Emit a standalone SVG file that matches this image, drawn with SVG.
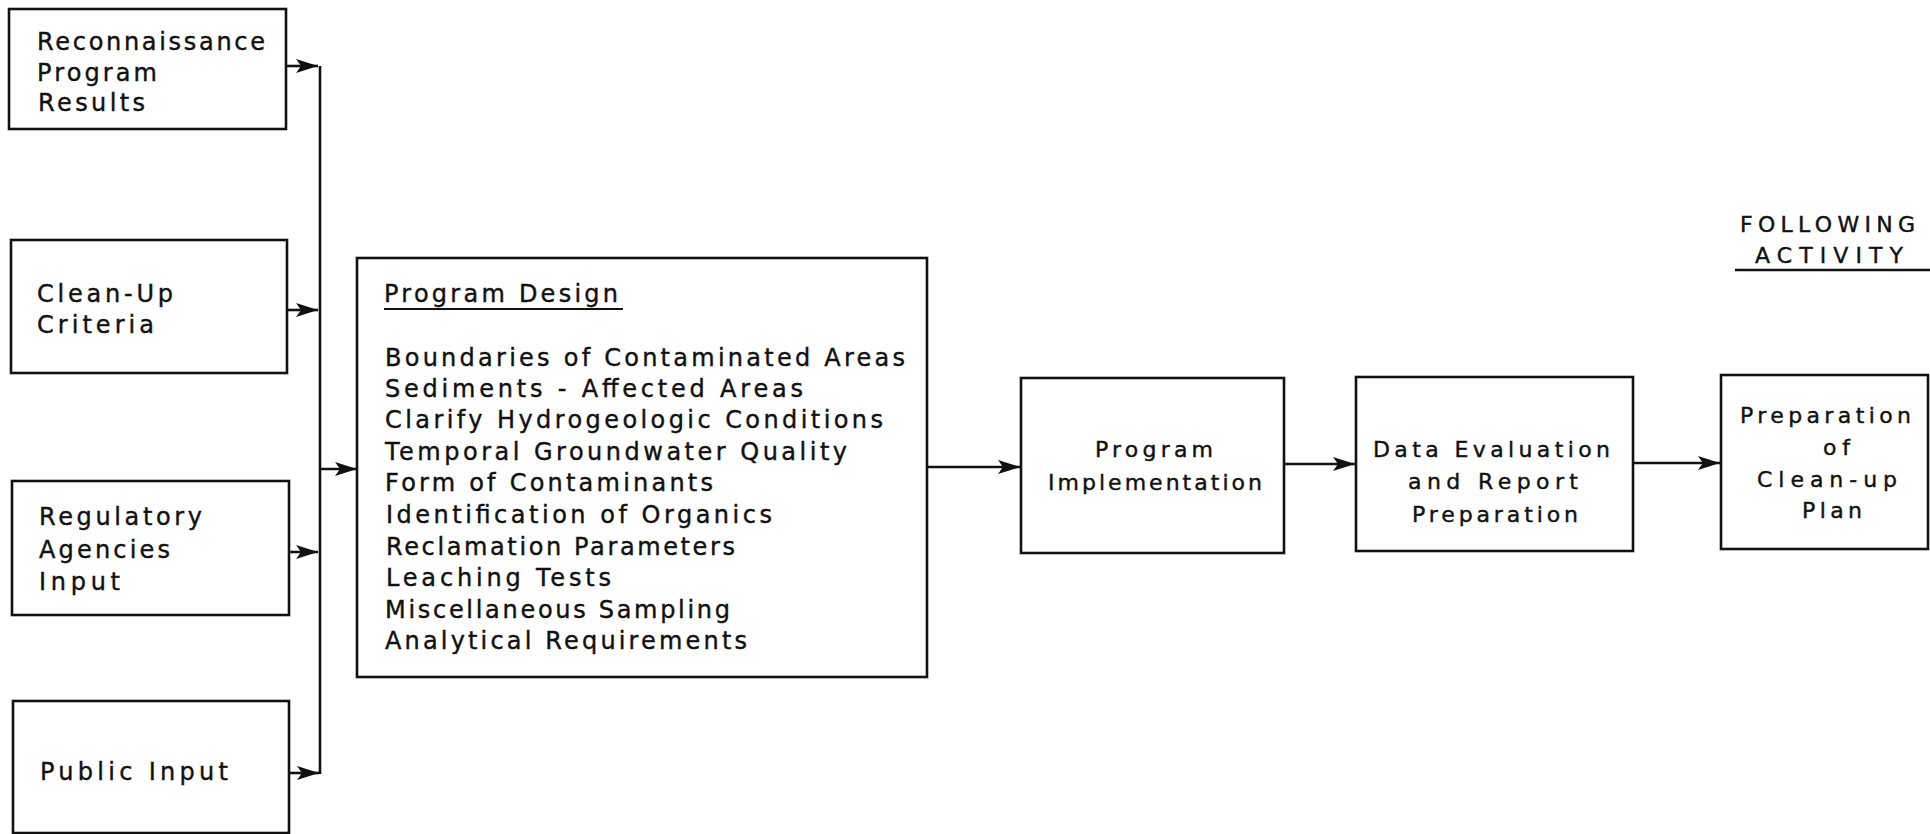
<svg xmlns="http://www.w3.org/2000/svg" width="1930" height="834" viewBox="0 0 1930 834">
<defs>
<style>
.box{fill:none;stroke:#111;stroke-width:2.6}
.ln{fill:none;stroke:#111;stroke-width:2.6}
.t{font-family:"DejaVu Sans","Open Sans",sans-serif;font-size:24px;fill:#111;stroke:#111;stroke-width:0.4}
.s{font-family:"DejaVu Sans","Open Sans",sans-serif;font-size:22px;fill:#111;stroke:#111;stroke-width:0.4}
</style>
<marker id="ah" viewBox="0 0 22 14" refX="22" refY="7" markerWidth="22" markerHeight="14" markerUnits="userSpaceOnUse" orient="auto">
<path d="M0,0 L22,7 L0,14 L5,7 Z" fill="#111"/>
</marker>
</defs>
<rect width="1930" height="834" fill="#fff"/>

<g id="connectors">
<line class="ln" x1="320" y1="66" x2="320" y2="774"/>
<line class="ln" x1="286" y1="66" x2="318" y2="66" marker-end="url(#ah)"/>
<line class="ln" x1="287" y1="310" x2="318" y2="310" marker-end="url(#ah)"/>
<line class="ln" x1="289" y1="552" x2="318" y2="552" marker-end="url(#ah)"/>
<line class="ln" x1="289" y1="773" x2="319" y2="773" marker-end="url(#ah)"/>
<line class="ln" x1="320" y1="469" x2="357" y2="469" marker-end="url(#ah)"/>
<line class="ln" x1="927" y1="467" x2="1020" y2="467" marker-end="url(#ah)"/>
<line class="ln" x1="1284" y1="464" x2="1355" y2="464" marker-end="url(#ah)"/>
<line class="ln" x1="1633" y1="463" x2="1720" y2="463" marker-end="url(#ah)"/>
</g>

<g id="reconnaissance">
<rect class="box" x="9" y="9" width="277" height="120"/>
<text class="t" x="37" y="50" textLength="228" lengthAdjust="spacing">Reconnaissance</text>
<text class="t" x="37" y="81" textLength="120" lengthAdjust="spacing">Program</text>
<text class="t" x="38" y="111" textLength="107" lengthAdjust="spacing">Results</text>
</g>

<g id="cleanup-criteria">
<rect class="box" x="11" y="240" width="276" height="133"/>
<text class="t" x="37" y="302" textLength="136" lengthAdjust="spacing">Clean-Up</text>
<text class="t" x="37" y="333" textLength="117" lengthAdjust="spacing">Criteria</text>
</g>

<g id="regulatory">
<rect class="box" x="12" y="481" width="277" height="134"/>
<text class="t" x="39" y="525" textLength="163" lengthAdjust="spacing">Regulatory</text>
<text class="t" x="39" y="558" textLength="131" lengthAdjust="spacing">Agencies</text>
<text class="t" x="39" y="590" textLength="81" lengthAdjust="spacing">Input</text>
</g>

<g id="public-input">
<rect class="box" x="13" y="701" width="276" height="132"/>
<text class="t" x="40" y="780" textLength="188" lengthAdjust="spacing">Public Input</text>
</g>

<g id="program-design">
<rect class="box" x="357" y="258" width="570" height="419"/>
<text class="t" x="384" y="302" textLength="234" lengthAdjust="spacing">Program Design</text>
<line x1="384" y1="309" x2="623" y2="309" stroke="#111" stroke-width="2.2"/>
<text class="t" x="385" y="366" textLength="520" lengthAdjust="spacing">Boundaries of Contaminated Areas</text>
<text class="t" x="385" y="397" textLength="418" lengthAdjust="spacing">Sediments - Affected Areas</text>
<text class="t" x="385" y="428" textLength="498" lengthAdjust="spacing">Clarify Hydrogeologic Conditions</text>
<text class="t" x="385" y="460" textLength="462" lengthAdjust="spacing">Temporal Groundwater Quality</text>
<text class="t" x="385" y="491" textLength="328" lengthAdjust="spacing">Form of Contaminants</text>
<text class="t" x="386" y="523" textLength="386" lengthAdjust="spacing">Identification of Organics</text>
<text class="t" x="386" y="555" textLength="349" lengthAdjust="spacing">Reclamation Parameters</text>
<text class="t" x="386" y="586" textLength="225" lengthAdjust="spacing">Leaching Tests</text>
<text class="t" x="385" y="618" textLength="345" lengthAdjust="spacing">Miscellaneous Sampling</text>
<text class="t" x="385" y="649" textLength="362" lengthAdjust="spacing">Analytical Requirements</text>
</g>

<g id="program-implementation">
<rect class="box" x="1021" y="378" width="263" height="175"/>
<text class="s" x="1095" y="457" textLength="118" lengthAdjust="spacing">Program</text>
<text class="s" x="1048" y="490" textLength="214" lengthAdjust="spacing">Implementation</text>
</g>

<g id="data-evaluation">
<rect class="box" x="1356" y="377" width="277" height="174"/>
<text class="s" x="1373" y="457" textLength="237" lengthAdjust="spacing">Data Evaluation</text>
<text class="s" x="1408" y="489" textLength="170" lengthAdjust="spacing">and Report</text>
<text class="s" x="1412" y="522" textLength="166" lengthAdjust="spacing">Preparation</text>
</g>

<g id="cleanup-plan">
<rect class="box" x="1721" y="375" width="207" height="174"/>
<text class="s" x="1740" y="423" textLength="171" lengthAdjust="spacing">Preparation</text>
<text class="s" x="1823" y="455" textLength="27" lengthAdjust="spacing">of</text>
<text class="s" x="1757" y="487" textLength="140" lengthAdjust="spacing">Clean-up</text>
<text class="s" x="1802" y="518" textLength="60" lengthAdjust="spacing">Plan</text>
</g>

<g id="following-activity">
<text class="s" x="1740" y="232" textLength="175" lengthAdjust="spacing">FOLLOWING</text>
<text class="s" x="1755" y="263" textLength="148" lengthAdjust="spacing">ACTIVITY</text>
<line x1="1735" y1="270" x2="1930" y2="270" stroke="#111" stroke-width="2.4"/>
</g>
</svg>
